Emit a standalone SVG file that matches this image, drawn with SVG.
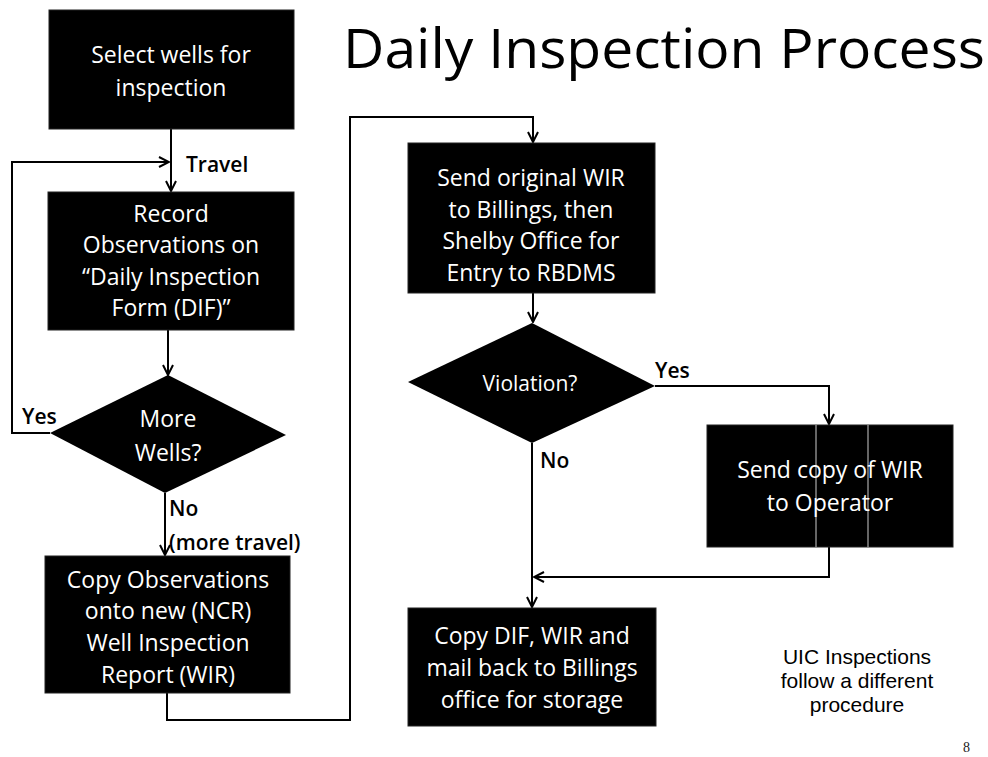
<svg xmlns="http://www.w3.org/2000/svg" width="988" height="757" viewBox="0 0 988 757">
<style>
.box{fill:#000;stroke:#222;stroke-width:1}
.bt{fill:#fff;font-family:"Open Sans",Lato,sans-serif;font-size:23px;text-anchor:middle}
.dt{fill:#fff;font-family:"Open Sans",Lato,sans-serif;font-size:21px;text-anchor:middle}
.lbl{fill:#000;font-family:"Open Sans",Lato,sans-serif;font-size:21px;font-weight:600}
.line{fill:none;stroke:#000;stroke-width:2}
.arr{marker-end:url(#ah)}
.note{fill:#000;font-family:"Liberation Sans",Arial,sans-serif;font-size:21px;text-anchor:middle}
</style>
<defs>
<marker id="ah" viewBox="0 0 12 12" refX="11" refY="6" markerWidth="12" markerHeight="12" markerUnits="userSpaceOnUse" orient="auto">
<polyline points="1,1 11,6 1,11" fill="none" stroke="#000" stroke-width="2"/>
</marker>
</defs>
<rect width="988" height="757" fill="#fff"/>
<text x="343" y="68" font-family="'Open Sans',Lato,sans-serif" font-size="54" textLength="642" lengthAdjust="spacingAndGlyphs" fill="#000">Daily Inspection Process</text>

<g id="connectors">
<path class="line arr" d="M171,129 V191"/>
<path class="line arr" d="M50,433 H12 V162 H169"/>
<path class="line arr" d="M168,330 V375"/>
<path class="line arr" d="M165,493 V555"/>
<path class="line arr" d="M167,693 V720 H350 V117 H533 V142"/>
<path class="line arr" d="M533,293 V322"/>
<path class="line arr" d="M655,386 H829 V424"/>
<path class="line arr" d="M532,443 V607"/>
<path class="line arr" d="M829,547 V577 H534"/>
</g>

<g id="labels">
<text class="lbl" x="186" y="172">Travel</text>
<text class="lbl" x="22" y="424">Yes</text>
<text class="lbl" x="169" y="516">No</text>
<text class="lbl" x="169" y="550">(more travel)</text>
<text class="lbl" x="655" y="378">Yes</text>
<text class="lbl" x="540" y="468">No</text>
</g>

<g id="n1">
<rect class="box" x="49" y="10" width="245" height="119"/>
<text class="bt" x="171" y="63">Select wells for</text>
<text class="bt" x="171" y="96">inspection</text>
</g>
<g id="n2">
<rect class="box" x="48" y="192" width="246" height="138"/>
<text class="bt" x="171" y="222">Record</text>
<text class="bt" x="171" y="253">Observations on</text>
<text class="bt" x="171" y="285">“Daily Inspection</text>
<text class="bt" x="171" y="316">Form (DIF)”</text>
</g>
<g id="n3">
<polygon points="168,375 286,435 165,493 50,433" fill="#000"/>
<text class="bt" x="168" y="427">More</text>
<text class="bt" x="168" y="461">Wells?</text>
</g>
<g id="n4">
<rect class="box" x="45" y="556" width="245" height="137"/>
<text class="bt" x="168" y="588">Copy Observations</text>
<text class="bt" x="168" y="619">onto new (NCR)</text>
<text class="bt" x="168" y="651">Well Inspection</text>
<text class="bt" x="168" y="683">Report (WIR)</text>
</g>
<g id="n5">
<rect class="box" x="408" y="143" width="247" height="150"/>
<text class="bt" x="531" y="186">Send original WIR</text>
<text class="bt" x="531" y="218">to Billings, then</text>
<text class="bt" x="531" y="249">Shelby Office for</text>
<text class="bt" x="531" y="281">Entry to RBDMS</text>
</g>
<g id="n6">
<polygon points="532,323 655,386 532,443 408,382" fill="#000"/>
<text class="dt" x="530" y="391">Violation?</text>
</g>
<g id="n7">
<rect class="box" x="707" y="425" width="246" height="122"/>
<line x1="816" y1="425" x2="816" y2="547" stroke="#ccc" stroke-width="1"/>
<line x1="868" y1="425" x2="868" y2="547" stroke="#ccc" stroke-width="1"/>
<text class="bt" x="830" y="478">Send copy of WIR</text>
<text class="bt" x="830" y="511">to Operator</text>
</g>
<g id="n8">
<rect class="box" x="408" y="608" width="248" height="118"/>
<text class="bt" x="532" y="644">Copy DIF,  WIR and</text>
<text class="bt" x="532" y="676">mail back to Billings</text>
<text class="bt" x="532" y="708">office for storage</text>
</g>
<g id="note">
<text class="note" x="857" y="664">UIC Inspections</text>
<text class="note" x="857" y="688">follow a different</text>
<text class="note" x="857" y="712">procedure</text>
</g>
<text x="963" y="752" font-family="'Liberation Serif',serif" font-size="14" fill="#222">8</text>
</svg>
